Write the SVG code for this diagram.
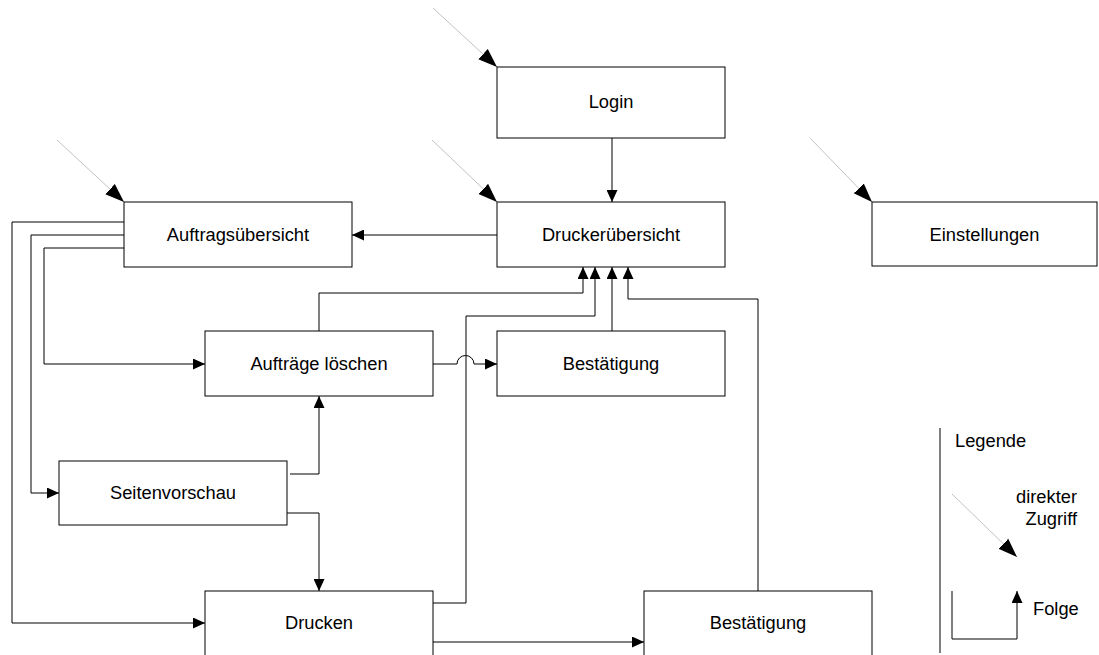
<svg xmlns="http://www.w3.org/2000/svg" width="1099" height="655" viewBox="0 0 1099 655">
<style>
.box{fill:#fff;stroke:#000;stroke-width:1}
.lbl{font-family:"Liberation Sans",Arial,sans-serif;font-size:18.3px;fill:#000;text-anchor:middle}
.leg{font-family:"Liberation Sans",Arial,sans-serif;font-size:18.3px;fill:#000}
.flow{fill:none;stroke:#000;stroke-width:1}
.direct{fill:none;stroke:#999;stroke-width:0.6}
</style>
<defs>
<marker id="ah" markerUnits="userSpaceOnUse" markerWidth="12" markerHeight="11" refX="12" refY="5.5" orient="auto">
<path d="M0,0 L12,5.5 L0,11 z" fill="#000"/>
</marker>
<marker id="dh" markerUnits="userSpaceOnUse" markerWidth="19" markerHeight="15" refX="19" refY="7.5" orient="auto">
<path d="M0,0.5 L19,7.5 L0,14.5 z" fill="#000"/>
</marker>
</defs>
<rect width="1099" height="655" fill="#fff"/>
<g id="connectors">
<path class="flow" d="M612 138 V202" marker-end="url(#ah)"/>
<path class="flow" d="M497 235 H352" marker-end="url(#ah)"/>
<path class="flow" d="M124 222 H12 V623 H205" marker-end="url(#ah)"/>
<path class="flow" d="M124 235 H31 V493 H59" marker-end="url(#ah)"/>
<path class="flow" d="M124 248 H44 V364 H205" marker-end="url(#ah)"/>
<path class="flow" d="M290 474 H319 V396" marker-end="url(#ah)"/>
<path class="flow" d="M284 513 H319 V591" marker-end="url(#ah)"/>
<path class="flow" d="M319 331 V293 H583 V267" marker-end="url(#ah)"/>
<path class="flow" d="M433 603 H466 V316 H595 V267" marker-end="url(#ah)"/>
<path class="flow" d="M612 331 V267" marker-end="url(#ah)"/>
<path class="flow" d="M758 591 V299 H628 V267" marker-end="url(#ah)"/>
<path class="flow" d="M433 364 H457 A8.5 8.5 0 0 1 474 364 H497" marker-end="url(#ah)"/>
<path class="flow" d="M433 642 H644" marker-end="url(#ah)"/>
<path class="direct" d="M433 8 L497 67" marker-end="url(#dh)"/>
<path class="direct" d="M432 140 L497 202" marker-end="url(#dh)"/>
<path class="direct" d="M57 140 L124 202" marker-end="url(#dh)"/>
<path class="direct" d="M810 138 L872 202" marker-end="url(#dh)"/>
</g>
<g id="login"><rect class="box" x="497" y="67" width="228" height="71"/><text class="lbl" x="611" y="108">Login</text></g>
<g id="druckeruebersicht"><rect class="box" x="497" y="202" width="228" height="65"/><text class="lbl" x="611" y="241">Druckerübersicht</text></g>
<g id="auftragsuebersicht"><rect class="box" x="124" y="202" width="228" height="65"/><text class="lbl" x="238" y="241">Auftragsübersicht</text></g>
<g id="einstellungen"><rect class="box" x="872" y="202" width="225" height="64"/><text class="lbl" x="984.5" y="241">Einstellungen</text></g>
<g id="auftraege-loeschen"><rect class="box" x="205" y="331" width="228" height="65"/><text class="lbl" x="319" y="370">Aufträge löschen</text></g>
<g id="bestaetigung1"><rect class="box" x="497" y="331" width="228" height="65"/><text class="lbl" x="611" y="370">Bestätigung</text></g>
<g id="seitenvorschau"><rect class="box" x="59" y="461" width="228" height="64"/><text class="lbl" x="173" y="499">Seitenvorschau</text></g>
<g id="drucken"><rect class="box" x="205" y="591" width="228" height="66"/><text class="lbl" x="319" y="629">Drucken</text></g>
<g id="bestaetigung2"><rect class="box" x="644" y="591" width="228" height="66"/><text class="lbl" x="758" y="629">Bestätigung</text></g>
<g id="legende">
<line x1="940" y1="428" x2="940" y2="653" stroke="#000" stroke-width="1"/>
<text class="leg" x="955" y="447">Legende</text>
<text class="leg" x="1077" y="503" text-anchor="end">direkter</text>
<text class="leg" x="1077" y="525" text-anchor="end">Zugriff</text>
<path class="direct" d="M952 494 L1017 557" marker-end="url(#dh)"/>
<path class="flow" d="M952 591 V639 H1017 V591" marker-end="url(#ah)"/>
<text class="leg" x="1033" y="615">Folge</text>
</g>
</svg>
